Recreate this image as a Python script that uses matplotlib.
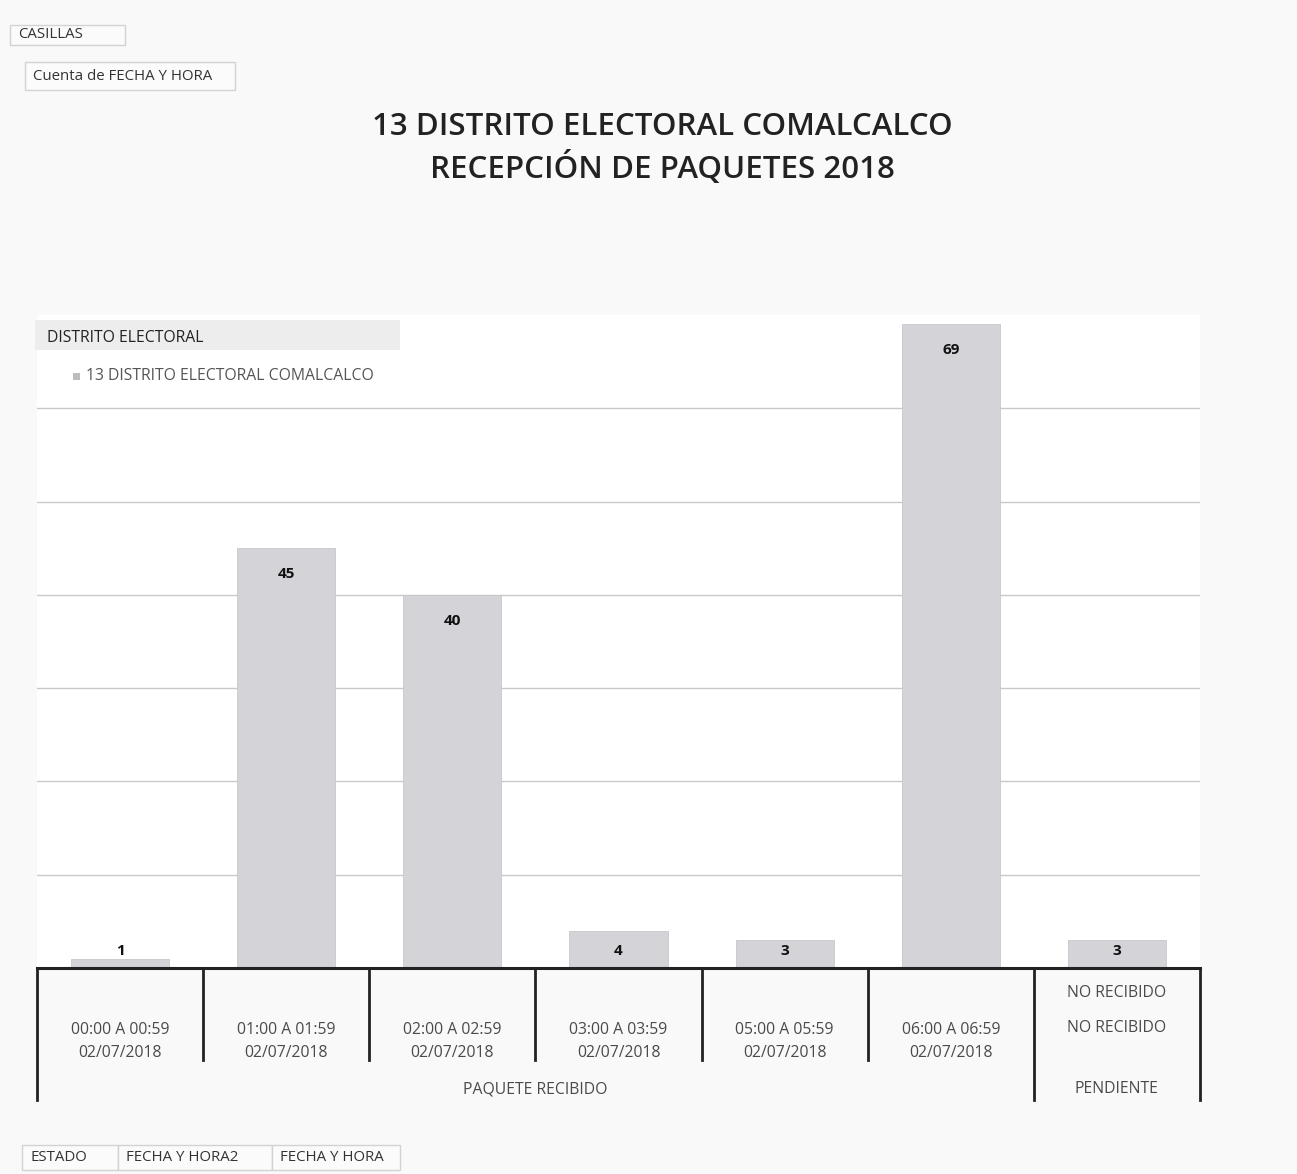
import matplotlib.pyplot as plt
from matplotlib.transforms import blended_transform_factory
from matplotlib.patches import Rectangle

# Datos de la tabla dinámica
horas = ["00:00 A 00:59", "01:00 A 01:59", "02:00 A 02:59", "03:00 A 03:59",
         "05:00 A 05:59", "06:00 A 06:59", "NO RECIBIDO"]
fechas = ["02/07/2018", "02/07/2018", "02/07/2018", "02/07/2018",
          "02/07/2018", "02/07/2018", "NO RECIBIDO"]
estados = ["PAQUETE RECIBIDO", "PENDIENTE"]
estado_tamanos = [6, 1]
casillas = [1, 45, 40, 4, 3, 69, 3]

plt.rcParams["font.family"] = ["Open Sans", "DejaVu Sans"]

W, H = 1297, 1174
fig = plt.figure(figsize=(W / 100, H / 100), dpi=100, facecolor="#f9f9f9")


def fx(px):
    return px / W


def fy(py):
    return 1 - py / H


ax = fig.add_axes([fx(37), fy(968), fx(1200) - fx(37), fy(315) - fy(968)])
ax.set_facecolor("white")
x = list(range(len(casillas)))
ax.bar(x, casillas, width=0.59, color="#d3d3d8", edgecolor="#c8c8cc", linewidth=0.6, zorder=2)
ax.set_xlim(-0.5, len(casillas) - 0.5)
ax.set_ylim(0, 70)
ax.set_yticks(range(10, 70, 10))
ax.yaxis.grid(True, color="#c9c9c9", linewidth=1.0, zorder=0)
ax.tick_params(left=False, bottom=False, labelleft=False, labelbottom=False)
for s in ["left", "right", "top"]:
    ax.spines[s].set_visible(False)
ax.spines["bottom"].set_linewidth(2.2)
ax.spines["bottom"].set_color("#222222")

# Etiquetas de datos
for xi, v in zip(x, casillas):
    ax.text(xi, max(v - 2.8, 1.8), str(v), ha="center", va="center",
            fontsize=11, fontweight="bold", color="#111111", zorder=3)

# Eje de categorías con varios niveles
tr = blended_transform_factory(ax.transData, fig.transFigure)
n = len(casillas)
for i in range(n + 1):
    xe = i - 0.5
    largo = xe in (-0.5, n - 1.5, n - 0.5)
    y_fin = 1100 if largo else 1060
    ax.plot([xe, xe], [fy(968), fy(y_fin)], transform=tr, clip_on=False,
            color="#222222", linewidth=2.0)

fs_cat = 11.3
for i in range(n - 1):
    ax.text(i, fy(1030), horas[i], transform=tr, ha="center", va="center",
            fontsize=fs_cat, color="#4a4a4a")
    ax.text(i, fy(1053), fechas[i], transform=tr, ha="center", va="center",
            fontsize=fs_cat, color="#4a4a4a")
ax.text(n - 1, fy(993), horas[-1], transform=tr, ha="center", va="center",
        fontsize=fs_cat, color="#4a4a4a")
ax.text(n - 1, fy(1028), fechas[-1], transform=tr, ha="center", va="center",
        fontsize=fs_cat, color="#4a4a4a")

inicio = 0
for estado, tam in zip(estados, estado_tamanos):
    centro = inicio + (tam - 1) / 2
    ax.text(centro, fy(1089), estado, transform=tr, ha="center", va="center",
            fontsize=fs_cat, color="#4a4a4a")
    inicio += tam

# Título
fig.text(fx(662), fy(127), "13 DISTRITO ELECTORAL COMALCALCO", ha="center", va="center",
         fontsize=22.5, fontweight="semibold", color="#222222")
fig.text(fx(662), fy(168), "RECEPCIÓN DE PAQUETES 2018", ha="center", va="center",
         fontsize=22.5, fontweight="semibold", color="#222222")

# Leyenda
fig.patches.append(Rectangle((fx(35), fy(350)), fx(400) - fx(35), fy(320) - fy(350),
                             transform=fig.transFigure, facecolor="#ededed", edgecolor="none"))
fig.text(fx(47), fy(338), "DISTRITO ELECTORAL", ha="left", va="center",
         fontsize=11.3, color="#222222")
fig.patches.append(Rectangle((fx(73), fy(380)), fx(7), fy(373) - fy(380),
                             transform=fig.transFigure, facecolor="#bdbdbd", edgecolor="none"))
fig.text(fx(86), fy(376), "13 DISTRITO ELECTORAL COMALCALCO", ha="left", va="center",
         fontsize=11.3, color="#555555")

# Botones de la tabla dinámica
botones = [("CASILLAS", 10, 25, 125, 45),
           ("Cuenta de FECHA Y HORA", 25, 62, 235, 90),
           ("ESTADO", 22, 1145, 118, 1170),
           ("FECHA Y HORA2", 118, 1145, 272, 1170),
           ("FECHA Y HORA", 272, 1145, 400, 1170)]
for txt, x0, y0, x1, y1 in botones:
    fig.patches.append(Rectangle((fx(x0), fy(y1)), fx(x1) - fx(x0), fy(y0) - fy(y1),
                                 transform=fig.transFigure, facecolor="#fbfbfb",
                                 edgecolor="#d2d2d2", linewidth=1))
    fig.text(fx(x0 + 8), fy((y0 + y1) / 2), txt, ha="left", va="center",
             fontsize=10.8, color="#333333")

fig.savefig("out.png", dpi=100, facecolor=fig.get_facecolor())
